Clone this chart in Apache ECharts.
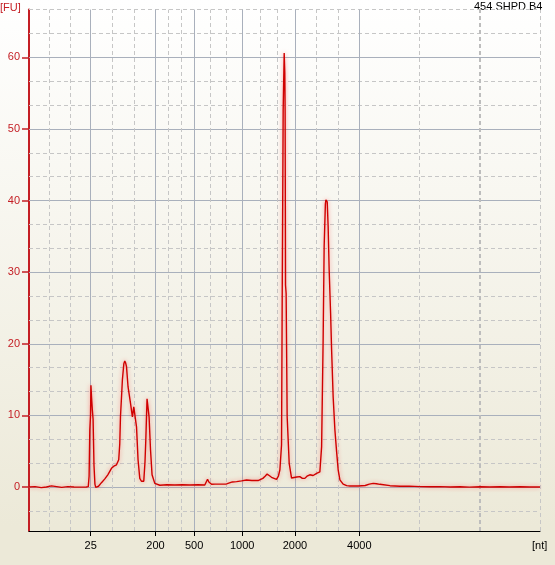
<!DOCTYPE html>
<html>
<head>
<meta charset="utf-8">
<script src="https://cdn.jsdelivr.net/npm/echarts@6/dist/echarts.min.js"></script>
<style>html,body{margin:0;padding:0;}#c{width:555px;height:565px;}</style>
</head>
<body>
<div id="c"></div>
<script>
// Ladder (x-axis labels) at migration time in seconds
const ladderNt  = ['25', '200', '500', '1000', '2000', '4000'];
const ladderSec = [25.04, 31.38, 35.16, 39.86, 45.02, 51.32];
const xRange = [19, 69];
const yRange = [-6.15, 66.67];
const yTickValues = [0, 10, 20, 30, 40, 50, 60];

// Electropherogram trace: time [s] and fluorescence [FU]
const timeSec = [
  19.0, 19.6, 20.2, 20.7, 21.2, 21.7, 22.2, 22.8, 23.4, 24.0, 24.6, 24.8,
  24.88, 24.95, 25.02, 25.06, 25.12, 25.2, 25.27, 25.36, 25.45, 25.53, 25.63, 25.8,
  26.09, 26.4, 26.71, 27.07, 27.3, 27.56, 27.78, 27.88, 27.95, 28.05, 28.14, 28.28,
  28.37, 28.46, 28.54, 28.69, 28.93, 29.05, 29.12, 29.2, 29.25, 29.42, 29.52, 29.67,
  29.84, 30.0, 30.23, 30.35, 30.43, 30.55, 30.65, 30.75, 30.89, 31.04, 31.31, 31.8,
  32.5, 33.26, 34.0, 34.73, 35.5, 36.2, 36.35, 36.47, 36.6, 36.86, 37.2, 37.67,
  38.33, 38.48, 38.9, 39.31, 39.8, 40.28, 40.8, 41.42, 41.88, 42.1, 42.3, 42.5,
  42.73, 43.22, 43.4, 43.55, 43.71, 43.77, 43.87, 43.97, 44.03, 44.06, 44.10, 44.16,
  44.26, 44.46, 44.69, 44.85, 45.2, 45.5, 45.75, 45.99, 46.2, 46.48, 46.8, 47.14,
  47.46, 47.63, 47.78, 47.88, 48.0, 48.05, 48.12, 48.18, 48.27, 48.37, 48.51, 48.61,
  48.76, 48.93, 49.10, 49.25, 49.42, 49.74, 50.08, 50.4, 51.21, 51.9, 52.3, 52.68,
  53.0, 53.34, 54.32, 55.3, 56.2, 57.25, 58.2, 59.21, 60.2, 61.17, 62.1, 63.13,
  64.1, 65.09, 66.0, 67.05, 68.0, 69.0
];
const fluorescence = [
  0.0, 0.05, -0.1, 0.0, 0.15, 0.05, -0.05, 0.05, 0.0, -0.02, 0.0, 0.05,
  1.5, 8.0, 10.0, 14.2, 12.5, 10.7, 9.5, 3.0, 0.4, -0.05, -0.1, 0.1,
  0.6, 1.1, 1.7, 2.6, 2.9, 3.1, 3.8, 6.0, 9.8, 12.5, 15.0, 17.2,
  17.6, 17.3, 16.8, 14.0, 11.7, 10.5, 9.8, 10.6, 11.2, 11.0, 8.4, 3.8,
  1.2, 0.8, 0.8, 3.5, 6.6, 12.3, 12.4, 9.8, 5.2, 1.7, 0.5, 0.24,
  0.3, 0.28, 0.3, 0.28, 0.3, 0.28, 0.5, 1.07, 0.7, 0.38, 0.4, 0.4,
  0.42, 0.65, 0.7, 0.74, 0.85, 0.98, 0.9, 0.9, 1.2, 1.5, 1.8, 1.6,
  1.35, 1.07, 1.5, 2.4, 5.9, 24.7, 52.6, 60.6, 57.8, 52.6, 28.2, 27.0,
  9.8, 3.3, 1.25, 1.1, 1.4, 1.44, 1.2, 1.2, 1.5, 1.7, 1.6, 1.9,
  2.1, 5.6, 20.5, 33.6, 39.5, 40.1, 40.0, 39.8, 36.4, 30.3, 24.3, 19.1,
  12.6, 8.0, 4.9, 2.4, 1.0, 0.4, 0.18, 0.14, 0.14, 0.2, 0.4, 0.5,
  0.45, 0.37, 0.18, 0.1, 0.12, 0.05, 0.02, 0.05, 0.0, 0.03, -0.02, 0.02,
  0.0, 0.03, 0.0, 0.02, 0.0, 0.0
];

const sampleName = '454 SHPD B4';
const yUnit = '[FU]';
const xUnit = '[nt]';

const RED = '#c41e24';
const SOLID = '#a9b0bc';
const DASH = '#c6c6c6';

// grid lines
const markData = [];
yTickValues.forEach(v => markData.push({ yAxis: v, lineStyle: { color: SOLID, type: 'solid', width: 1 } }));
for (let k = -1; k <= 6; k++) {
  [1, 2].forEach(j => {
    const v = k * 10 + j * 10 / 3;
    if (v > yRange[0] && v <= yRange[1] + 0.01) {
      markData.push({ yAxis: v, lineStyle: { color: DASH, type: [4, 3], width: 1 } });
    }
  });
}
const bounds = [xRange[0]].concat(ladderSec, [xRange[1]]);
for (let i = 0; i < bounds.length - 1; i++) {
  [1, 2].forEach(j => {
    const v = bounds[i] + (bounds[i + 1] - bounds[i]) * j / 3;
    const thick = (i === bounds.length - 2 && j === 2);
    markData.push({ xAxis: v, lineStyle: { color: thick ? '#bdbdbd' : DASH, type: [4, 3], width: thick ? 2 : 1 } });
  });
}
markData.push({ xAxis: xRange[1], lineStyle: { color: DASH, type: [4, 3], width: 1 } });
ladderSec.forEach(v => markData.push({ xAxis: v, lineStyle: { color: SOLID, type: 'solid', width: 1 } }));

const chart = echarts.init(document.getElementById('c'), null, { renderer: 'canvas' });
const option = {
  animation: false,
  backgroundColor: new echarts.graphic.LinearGradient(0, 0, 0, 1, [
    { offset: 0, color: '#ffffff' },
    { offset: 0.93, color: '#ece9d8' },
    { offset: 1, color: '#ece9d8' }
  ]),
  textStyle: { fontFamily: 'Liberation Sans' },
  grid: { left: 29, right: 15, top: 9.6, bottom: 34, containLabel: false },
  xAxis: {
    type: 'value', min: xRange[0], max: xRange[1],
    axisLine: { show: true, onZero: false, lineStyle: { color: '#000', width: 1 } },
    axisTick: { show: true, customValues: ladderSec, length: 5, lineStyle: { color: '#000' } },
    axisLabel: {
      customValues: ladderSec, color: '#000', fontSize: 11, fontFamily: 'Liberation Sans', margin: 9,
      formatter: function (v) {
        let best = 0, d = Infinity;
        ladderSec.forEach((s, i) => { if (Math.abs(s - v) < d) { d = Math.abs(s - v); best = i; } });
        return ladderNt[best];
      }
    },
    splitLine: { show: false }
  },
  yAxis: {
    type: 'value', min: yRange[0], max: yRange[1],
    axisLine: { show: true, onZero: false, lineStyle: { color: RED, width: 2 } },
    axisTick: { show: true, customValues: yTickValues, length: 7, lineStyle: { color: RED, width: 1.5 } },
    axisLabel: { customValues: yTickValues, color: RED, fontSize: 11, fontFamily: 'Liberation Sans', margin: 9 },
    splitLine: { show: false }
  },
  series: [
    {
      type: 'line', z: 1, data: [], silent: true,
      markLine: { silent: true, symbol: 'none', label: { show: false }, animation: false, data: markData }
    },
    {
      type: 'line', z: 10, zlevel: 0, showSymbol: false, symbol: 'none', smooth: false,
      data: timeSec.map((t, i) => [t, fluorescence[i]]),
      lineStyle: { color: '#d00000', width: 1.4, shadowColor: 'rgba(255,60,60,0.55)', shadowBlur: 4 }
    }
  ],
  graphic: [
    { type: 'text', left: 0, top: 2, style: { text: yUnit, fill: RED, font: '11px "Liberation Sans"' } },
    { type: 'text', left: 474, top: 1, style: { text: sampleName, fill: '#000', font: '11px "Liberation Sans"' } },
    { type: 'text', left: 532, top: 540, style: { text: xUnit, fill: '#000', font: '11px "Liberation Sans"' } }
  ]
};
chart.setOption(option);
</script>
</body>
</html>
